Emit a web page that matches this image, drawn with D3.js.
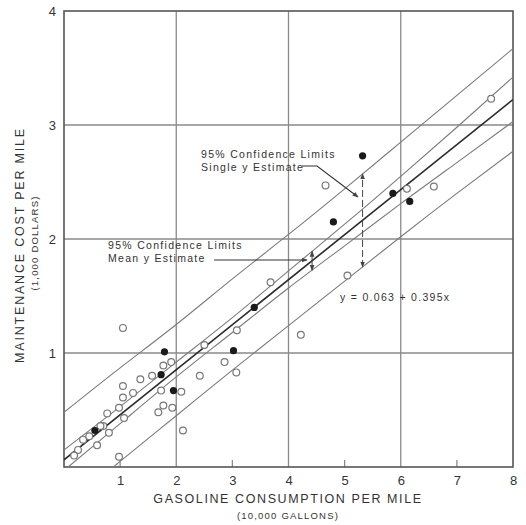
<!DOCTYPE html>
<html>
<head>
<meta charset="utf-8">
<script src="https://cdn.jsdelivr.net/npm/d3@7/dist/d3.min.js"></script>
<style>
  html, body { margin: 0; padding: 0; background: #fff; }
  svg { display: block; }
  text { font-family: "Liberation Sans", Arial, sans-serif; fill: #333; }
</style>
</head>
<body>
<svg id="chart" width="526" height="525"></svg>
<script>
// Gasoline consumption (10,000 gal) vs maintenance cost (1,000 $) per mile
const openX = [1.05, 1.77, 1.91, 1.57, 1.36, 1.05, 1.23, 1.05, 2.09, 1.73, 1.77, 1.68, 1.93, 2.12,
               0.77, 1.07, 0.98, 0.70, 0.80, 0.59, 0.34, 0.25, 0.18, 0.98, 0.45, 0.65,
               2.42, 2.50, 2.86, 3.07, 3.08, 3.68, 4.22, 5.05, 4.66, 6.11, 6.59, 7.61];
const openY = [1.22, 0.89, 0.92, 0.80, 0.77, 0.71, 0.65, 0.61, 0.66, 0.67, 0.54, 0.48, 0.52, 0.32,
               0.47, 0.43, 0.52, 0.36, 0.30, 0.19, 0.24, 0.15, 0.10, 0.09, 0.27, 0.36,
               0.80, 1.07, 0.92, 0.83, 1.20, 1.62, 1.16, 1.68, 2.47, 2.44, 2.46, 3.23];
const solidX = [1.79, 1.73, 1.95, 3.02, 3.39, 4.80, 5.32, 5.86, 6.16, 0.55];
const solidY = [1.01, 0.81, 0.67, 1.02, 1.40, 2.15, 2.73, 2.40, 2.33, 0.32];

// Fitted line y = a + b x
const intercept = 0.063;
const slope = 0.395;

// Confidence limits sampled along x
const bandX       = [0, 1, 2, 3, 4, 5, 6, 7, 8];
const meanUpper   = [0.15, 0.53, 0.92, 1.31, 1.72, 2.13, 2.55, 2.98, 3.42];
const meanLower   = [-0.03, 0.38, 0.79, 1.18, 1.57, 1.94, 2.31, 2.67, 3.03];
const singleUpper = [0.48, 0.87, 1.25, 1.65, 2.04, 2.44, 2.85, 3.26, 3.67];
const singleLower = [-0.36, 0.05, 0.45, 0.85, 1.24, 1.63, 2.02, 2.40, 2.77];

const xTicks = [1, 2, 3, 4, 5, 6, 7, 8];
const yTicks = [1, 2, 3, 4];
const xGrid = [2, 4, 6];
const xMinor = [1, 3, 5, 7];
const yGrid = [1, 2, 3];

const svg = d3.select("#chart");
const x = d3.scaleLinear().domain([0, 8]).range([64, 513]);
const y = d3.scaleLinear().domain([0, 4]).range([467, 11]);

svg.append("rect").attr("width", 526).attr("height", 525).attr("fill", "#fff");

const defs = svg.append("defs");
defs.append("clipPath").attr("id", "plot")
  .append("rect").attr("x", x(0)).attr("y", y(4))
  .attr("width", x(8) - x(0)).attr("height", y(0) - y(4));
defs.append("marker").attr("id", "arrow").attr("viewBox", "0 0 10 10")
  .attr("refX", 9).attr("refY", 5).attr("markerWidth", 6).attr("markerHeight", 6)
  .attr("orient", "auto-start-reverse").attr("markerUnits", "userSpaceOnUse")
  .append("path").attr("d", "M0,1 L10,5 L0,9 Z").attr("fill", "#444");

// grid
const grid = svg.append("g").attr("stroke", "#8a8a8a").attr("stroke-width", 1.3);
grid.selectAll("line.v").data(xGrid).join("line").attr("class", "v")
  .attr("x1", d => x(d)).attr("x2", d => x(d)).attr("y1", y(0)).attr("y2", y(4));
grid.selectAll("line.h").data(yGrid).join("line").attr("class", "h")
  .attr("y1", d => y(d)).attr("y2", d => y(d)).attr("x1", x(0)).attr("x2", x(8));
grid.selectAll("line.m").data(xMinor).join("line").attr("class", "m")
  .attr("x1", d => x(d)).attr("x2", d => x(d)).attr("y1", y(0)).attr("y2", y(0) - 7);

// frame
svg.append("rect").attr("x", x(0)).attr("y", y(4))
  .attr("width", x(8) - x(0)).attr("height", y(0) - y(4))
  .attr("fill", "none").attr("stroke", "#555").attr("stroke-width", 1.6);

// axes (labels only)
const xAxis = svg.append("g").attr("transform", `translate(0,${y(0)})`)
  .call(d3.axisBottom(x).tickValues(xTicks).tickSize(0).tickPadding(9).tickFormat(d3.format("d")));
const yAxis = svg.append("g").attr("transform", `translate(${x(0)},0)`)
  .call(d3.axisLeft(y).tickValues(yTicks).tickSize(0).tickPadding(8).tickFormat(d3.format("d")));
[xAxis, yAxis].forEach(a => {
  a.select(".domain").remove();
  a.selectAll("text").attr("font-size", 13).attr("fill", "#333")
    .style("font-family", "'Liberation Sans', Arial, sans-serif");
});

// bands and fitted line
const plot = svg.append("g").attr("clip-path", "url(#plot)");
const bandLine = vals => d3.line().x((d, i) => x(bandX[i])).y(d => y(d)).curve(d3.curveNatural)(vals);
[singleUpper, singleLower, meanUpper, meanLower].forEach(v => {
  plot.append("path").attr("d", bandLine(v)).attr("fill", "none")
    .attr("stroke", "#7a7a7a").attr("stroke-width", 1.1);
});
plot.append("line")
  .attr("x1", x(0)).attr("y1", y(intercept))
  .attr("x2", x(8)).attr("y2", y(intercept + slope * 8))
  .attr("stroke", "#2a2a2a").attr("stroke-width", 1.6);

// points
plot.selectAll("circle.o").data(openX).join("circle").attr("class", "o")
  .attr("cx", d => x(d)).attr("cy", (d, i) => y(openY[i])).attr("r", 3.4)
  .attr("fill", "#fff").attr("stroke", "#777").attr("stroke-width", 1.2);
plot.selectAll("circle.s").data(solidX).join("circle").attr("class", "s")
  .attr("cx", d => x(d)).attr("cy", (d, i) => y(solidY[i])).attr("r", 3.6)
  .attr("fill", "#1a1a1a");

// value of a sampled band at any x
const bandAt = (vals, xv) => {
  const i = Math.min(bandX.length - 2, Math.floor(xv));
  const t = xv - bandX[i];
  return vals[i] + (vals[i + 1] - vals[i]) * t;
};

// single-estimate interval marker
const xs = 5.32;
svg.append("line").attr("x1", x(xs)).attr("x2", x(xs))
  .attr("y1", y(bandAt(singleLower, xs))).attr("y2", y(bandAt(singleUpper, xs)))
  .attr("stroke", "#444").attr("stroke-width", 1).attr("stroke-dasharray", "7,3")
  .attr("marker-start", "url(#arrow)").attr("marker-end", "url(#arrow)");

// mean-estimate interval marker
const xm = 4.42;
svg.append("line").attr("x1", x(xm)).attr("x2", x(xm))
  .attr("y1", y(bandAt(meanLower, xm))).attr("y2", y(bandAt(meanUpper, xm)))
  .attr("stroke", "#444").attr("stroke-width", 1)
  .attr("marker-start", "url(#arrow)").attr("marker-end", "url(#arrow)");

// annotations
const note = (tx, ty, lines) => {
  const t = svg.append("text").attr("x", tx).attr("y", ty)
    .attr("font-size", 10.5).attr("letter-spacing", "1.3px").attr("fill", "#333");
  lines.forEach((s, i) => t.append("tspan").attr("x", tx).attr("dy", i ? 13 : 0).text(s));
};
note(201, 158, ["95% Confidence Limits", "Single y Estimate"]);
note(108, 249, ["95% Confidence Limits", "Mean y Estimate"]);

svg.append("path").attr("d", "M302,166 H317 L358,197").attr("fill", "none")
  .attr("stroke", "#333").attr("stroke-width", 1.1).attr("marker-end", "url(#arrow)");
svg.append("path").attr("d", "M214,260 H307").attr("fill", "none")
  .attr("stroke", "#333").attr("stroke-width", 1.1).attr("marker-end", "url(#arrow)");

svg.append("text").attr("x", 340).attr("y", 301).attr("font-size", 10.5)
  .attr("letter-spacing", "1.3px").text("y = 0.063 + 0.395x");

// axis titles
svg.append("text").attr("x", 288).attr("y", 503).attr("text-anchor", "middle")
  .attr("font-size", 12.5).attr("letter-spacing", "1.6px").text("GASOLINE CONSUMPTION PER MILE");
svg.append("text").attr("x", 288).attr("y", 519).attr("text-anchor", "middle")
  .attr("font-size", 9.5).attr("letter-spacing", "1.2px").text("(10,000 GALLONS)");
svg.append("text").attr("transform", "translate(24,245) rotate(-90)").attr("text-anchor", "middle")
  .attr("font-size", 12.5).attr("letter-spacing", "1.8px").text("MAINTENANCE COST PER MILE");
svg.append("text").attr("transform", "translate(38,243) rotate(-90)").attr("text-anchor", "middle")
  .attr("font-size", 9.5).attr("letter-spacing", "1.2px").text("(1,000 DOLLARS)");
</script>
</body>
</html>
